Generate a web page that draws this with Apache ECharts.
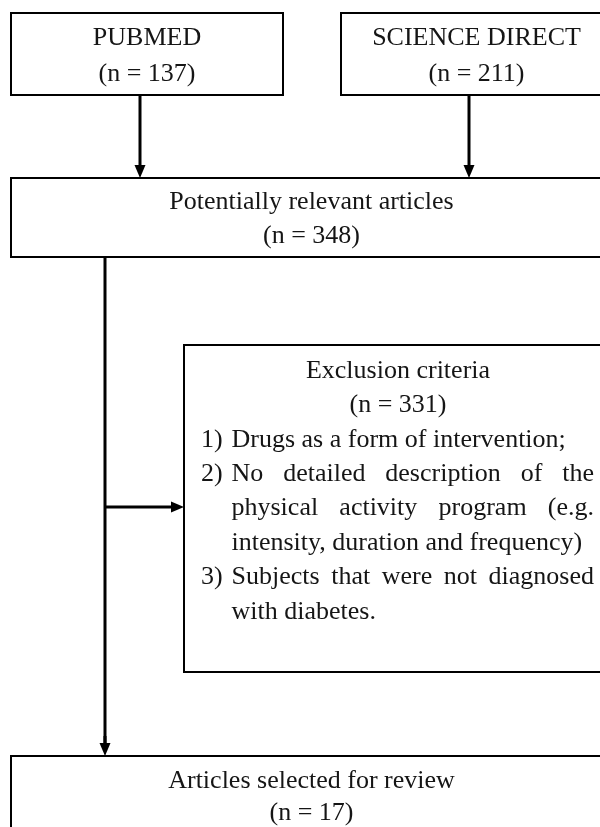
<!DOCTYPE html>
<html><head><meta charset="utf-8">
<script src="https://cdn.jsdelivr.net/npm/echarts@6/dist/echarts.min.js"></script>
<style>html,body{margin:0;padding:0;background:#fff;overflow:hidden}#c{width:600px;height:827px}</style>
</head><body><div id="c"></div>
<script>
// ---- data ----
const sources = ['PUBMED', 'SCIENCE DIRECT'];
const sourceCounts = [137, 211];
const relevantLabel = 'Potentially relevant articles';
const relevantCount = 348;
const exclusionLabel = 'Exclusion criteria';
const exclusionCount = 331;
const criteria = [
  ['Drugs as a form of intervention;'],
  ['No detailed description of the', 'physical activity program (e.g.', 'intensity, duration and frequency)'],
  ['Subjects that were not diagnosed', 'with diabetes.']
];
const selectedLabel = 'Articles selected for review';
const selectedCount = 17;

// ---- layout ----
const FAMILY = '"Liberation Serif","Times New Roman",serif';
const FS = 26;
const FONT = FS + 'px ' + FAMILY;
const TXT = '#151515';
const LAY = {
  srcBoxes: [[11, 13, 612 - 329, 95], [341, 13, 612, 95]],
  srcText: [38, 74],
  srcArrowX: [140, 469],
  relBox: [11, 178, 612, 257], relText: [202, 236],
  exBox: [184, 345, 612, 672], exText0: 371, exLH: 34.4,
  numX: 201, txtX: 231.5, txtR: 594,
  selBox: [11, 756, 612, 880], selText: [781, 813],
  trunkX: 105, branchY: 507
};

const ctx = document.createElement('canvas').getContext('2d');
ctx.font = FONT;
const mw = s => ctx.measureText(s).width;

const els = [];
function box(b) {
  els.push({type: 'rect', shape: {x: b[0], y: b[1], width: b[2] - b[0], height: b[3] - b[1]},
    style: {fill: '#fff', stroke: '#000', lineWidth: 2}, z: 1});
}
function text(t, x, y, align) {
  els.push({type: 'text', z: 5, style: {text: t, x: x, y: y, font: FONT, fill: TXT,
    textAlign: align || 'center', textVerticalAlign: 'middle'}});
}
function vArrow(x, y0, tip) {
  els.push({type: 'line', shape: {x1: x, y1: y0, x2: x, y2: tip - 10}, style: {stroke: '#000', lineWidth: 3}, z: 3});
  els.push({type: 'polygon', shape: {points: [[x - 5.5, tip - 13], [x + 5.5, tip - 13], [x, tip]]}, style: {fill: '#000'}, z: 3});
}
function hArrow(y, x0, tip) {
  els.push({type: 'line', shape: {x1: x0, y1: y, x2: tip - 10, y2: y}, style: {stroke: '#000', lineWidth: 3}, z: 3});
  els.push({type: 'polygon', shape: {points: [[tip - 13, y - 5.5], [tip - 13, y + 5.5], [tip, y]]}, style: {fill: '#000'}, z: 3});
}

// source boxes
sources.forEach((s, i) => {
  const b = LAY.srcBoxes[i];
  box(b);
  const cx = (b[0] + b[2]) / 2;
  text(s, cx, LAY.srcText[0]);
  text('(n = ' + sourceCounts[i] + ')', cx, LAY.srcText[1]);
  vArrow(LAY.srcArrowX[i], b[3], LAY.relBox[1]);
});

// relevant box
box(LAY.relBox);
{
  const cx = (LAY.relBox[0] + LAY.relBox[2]) / 2;
  text(relevantLabel, cx, LAY.relText[0]);
  text('(n = ' + relevantCount + ')', cx, LAY.relText[1]);
}

// trunk line
els.push({type: 'line', shape: {x1: LAY.trunkX, y1: LAY.relBox[3], x2: LAY.trunkX, y2: LAY.selBox[1] - 10},
  style: {stroke: '#000', lineWidth: 3}, z: 3});
vArrow(LAY.trunkX, LAY.selBox[1] - 20, LAY.selBox[1]);
hArrow(LAY.branchY, LAY.trunkX, LAY.exBox[0]);

// exclusion box
box(LAY.exBox);
{
  const cx = (LAY.exBox[0] + LAY.exBox[2]) / 2;
  text(exclusionLabel, cx, LAY.exText0);
  text('(n = ' + exclusionCount + ')', cx, LAY.exText0 + LAY.exLH);
  let line = 2;
  criteria.forEach((item, k) => {
    item.forEach((ln, j) => {
      const y = LAY.exText0 + LAY.exLH * line;
      if (j === 0) text((k + 1) + ')', LAY.numX, y, 'left');
      const last = j === item.length - 1;
      if (last) {
        text(ln, LAY.txtX, y, 'left');
      } else {
        const words = ln.split(' ');
        const ws = words.map(mw);
        const tot = ws.reduce((a, b) => a + b, 0);
        const gap = (LAY.txtR - LAY.txtX - tot) / (words.length - 1);
        let x = LAY.txtX;
        words.forEach((w, m) => { text(w, x, y, 'left'); x += ws[m] + gap; });
      }
      line++;
    });
  });
}

// selected box
box(LAY.selBox);
{
  const cx = (LAY.selBox[0] + LAY.selBox[2]) / 2;
  text(selectedLabel, cx, LAY.selText[0]);
  text('(n = ' + selectedCount + ')', cx, LAY.selText[1]);
}

const chart = echarts.init(document.getElementById('c'), null, {renderer: 'canvas'});
chart.setOption({backgroundColor: '#fff', animation: false, graphic: {elements: els}});
</script>
</body></html>
